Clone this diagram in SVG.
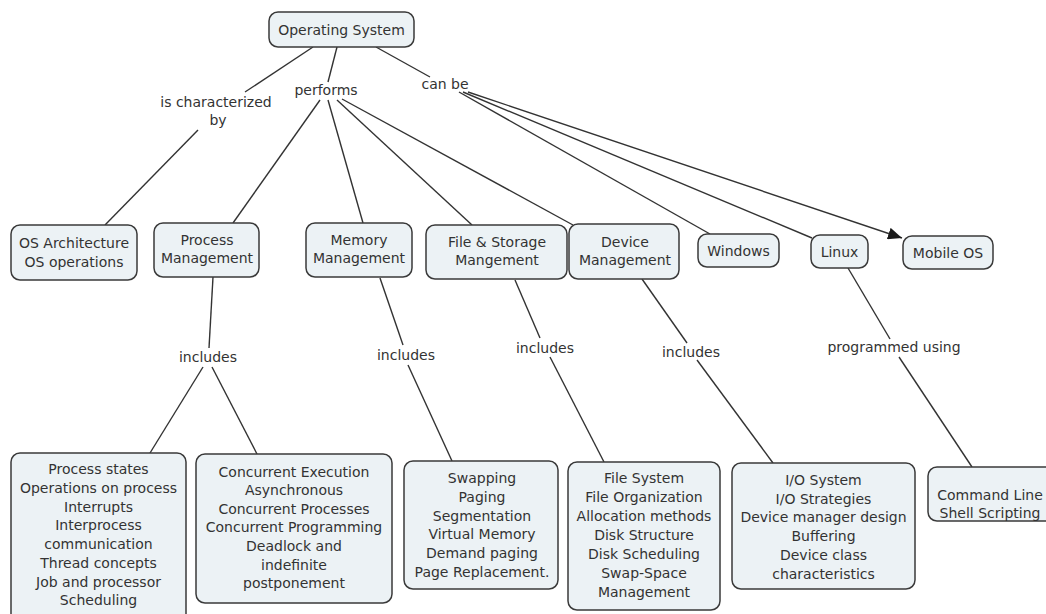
<svg xmlns="http://www.w3.org/2000/svg" width="1046" height="614" viewBox="0 0 1046 614">
  <defs>
    <marker id="arrow" viewBox="0 0 14 12" refX="14" refY="6" markerWidth="14" markerHeight="12" markerUnits="userSpaceOnUse" orient="auto">
      <path d="M0,0 L14,6 L0,12 Z" fill="#1a1a1a"/>
    </marker>
    <style>
      .node rect { fill: #ecf2f5; stroke: #3a3a3a; stroke-width: 1.5; }
      text { font-family: "DejaVu Sans", Verdana, sans-serif; font-size: 14px; fill: #333; text-anchor: middle; }
      .links line { stroke: #333; stroke-width: 1.4; fill: none; }
    </style>
  </defs>
  <rect width="1046" height="614" fill="#ffffff"/>

  <!-- connectors and linking phrases -->
  <g id="connectors" class="links">
    <line x1="313" y1="47" x2="245" y2="92"/>
    <line x1="198" y1="130" x2="105" y2="225"/>
    <line x1="337" y1="47" x2="328" y2="82"/>
    <line x1="320" y1="100" x2="233" y2="223"/>
    <line x1="328" y1="100" x2="363" y2="223"/>
    <line x1="337" y1="100" x2="472" y2="225"/>
    <line x1="342" y1="99" x2="573" y2="225"/>
    <line x1="376" y1="47" x2="430" y2="77"/>
    <line x1="459" y1="92" x2="710" y2="234"/>
    <line x1="463" y1="92" x2="812" y2="238"/>
    <line x1="468" y1="92" x2="902" y2="238" marker-end="url(#arrow)"/>
    <line x1="213" y1="277" x2="209" y2="348"/>
    <line x1="203" y1="367" x2="150" y2="453"/>
    <line x1="212" y1="367" x2="257" y2="454"/>
    <line x1="380" y1="278" x2="403" y2="345"/>
    <line x1="408" y1="365" x2="452" y2="461"/>
    <line x1="515" y1="280" x2="540" y2="338"/>
    <line x1="550" y1="357" x2="604" y2="462"/>
    <line x1="642" y1="279" x2="687" y2="343"/>
    <line x1="697" y1="360" x2="773" y2="463"/>
    <line x1="848" y1="268" x2="890" y2="339"/>
    <line x1="899" y1="357" x2="972" y2="467"/>
    <text x="216" y="107">is characterized</text>
    <text x="218" y="125">by</text>
    <text x="326" y="95">performs</text>
    <text x="445" y="89">can be</text>
    <text x="208" y="362">includes</text>
    <text x="406" y="360">includes</text>
    <text x="545" y="353">includes</text>
    <text x="691" y="357">includes</text>
    <text x="894" y="352">programmed using</text>
  </g>

  <!-- root -->
  <g id="operating-system" class="node">
    <rect x="269" y="12" width="145" height="35" rx="9"/>
    <text x="341.5" y="34.5">Operating System</text>
  </g>

  <!-- second level -->
  <g id="os-architecture" class="node">
    <rect x="11" y="225" width="126" height="55" rx="9"/>
    <text x="74" y="248">OS Architecture</text>
    <text x="74" y="267">OS operations</text>
  </g>
  <g id="process-management" class="node">
    <rect x="154" y="223" width="105" height="54" rx="9"/>
    <text x="207" y="245">Process</text>
    <text x="207" y="263">Management</text>
  </g>
  <g id="memory-management" class="node">
    <rect x="306" y="223" width="106" height="54" rx="9"/>
    <text x="359" y="245">Memory</text>
    <text x="359" y="263">Management</text>
  </g>
  <g id="file-storage-management" class="node">
    <rect x="426" y="225" width="141" height="54" rx="9"/>
    <text x="497" y="247">File &amp; Storage</text>
    <text x="497" y="265">Mangement</text>
  </g>
  <g id="device-management" class="node">
    <rect x="569" y="224" width="110" height="55" rx="9"/>
    <text x="625" y="247">Device</text>
    <text x="625" y="265">Management</text>
  </g>
  <g id="windows" class="node">
    <rect x="698" y="234" width="81" height="33" rx="9"/>
    <text x="738.5" y="255.5">Windows</text>
  </g>
  <g id="linux" class="node">
    <rect x="811" y="235" width="57" height="33" rx="9"/>
    <text x="839.5" y="256.5">Linux</text>
  </g>
  <g id="mobile-os" class="node">
    <rect x="903" y="236" width="90" height="33" rx="9"/>
    <text x="948" y="257.5">Mobile OS</text>
  </g>

  <!-- detail boxes -->
  <g id="process-topics" class="node">
    <rect x="11" y="453" width="175" height="170" rx="9"/>
    <text x="98.5" y="474">Process states<tspan x="98.5" dy="18.75">Operations on process</tspan><tspan x="98.5" dy="18.75">Interrupts</tspan><tspan x="98.5" dy="18.75">Interprocess</tspan><tspan x="98.5" dy="18.75">communication</tspan><tspan x="98.5" dy="18.75">Thread concepts</tspan><tspan x="98.5" dy="18.75">Job and processor</tspan><tspan x="98.5" dy="18.75">Scheduling</tspan></text>
  </g>
  <g id="concurrency-topics" class="node">
    <rect x="196" y="454" width="196" height="149" rx="9"/>
    <text x="294" y="476.5">Concurrent Execution<tspan x="294" dy="18.6">Asynchronous</tspan><tspan x="294" dy="18.6">Concurrent Processes</tspan><tspan x="294" dy="18.6">Concurrent Programming</tspan><tspan x="294" dy="18.6">Deadlock and</tspan><tspan x="294" dy="18.6">indefinite</tspan><tspan x="294" dy="18.6">postponement</tspan></text>
  </g>
  <g id="memory-topics" class="node">
    <rect x="404" y="461" width="154" height="128" rx="9"/>
    <text x="482" y="483.3">Swapping<tspan x="482" dy="18.7">Paging</tspan><tspan x="482" dy="18.7">Segmentation</tspan><tspan x="482" dy="18.7">Virtual Memory</tspan><tspan x="482" dy="18.7">Demand paging</tspan><tspan x="482" dy="18.7">Page Replacement.</tspan></text>
  </g>
  <g id="file-topics" class="node">
    <rect x="568" y="462" width="152" height="148" rx="9"/>
    <text x="644" y="483.3">File System<tspan x="644" dy="18.9">File Organization</tspan><tspan x="644" dy="18.9">Allocation methods</tspan><tspan x="644" dy="18.9">Disk Structure</tspan><tspan x="644" dy="18.9">Disk Scheduling</tspan><tspan x="644" dy="18.9">Swap-Space</tspan><tspan x="644" dy="18.9">Management</tspan></text>
  </g>
  <g id="device-topics" class="node">
    <rect x="732" y="463" width="183" height="126" rx="9"/>
    <text x="823.5" y="485">I/O System<tspan x="823.5" dy="18.7">I/O Strategies</tspan><tspan x="823.5" dy="18.7">Device manager design</tspan><tspan x="823.5" dy="18.7">Buffering</tspan><tspan x="823.5" dy="18.7">Device class</tspan><tspan x="823.5" dy="18.7">characteristics</tspan></text>
  </g>
  <g id="linux-tools" class="node">
    <rect x="928" y="467" width="126" height="54" rx="9"/>
    <text x="990" y="500">Command Line<tspan x="990" dy="17.5">Shell Scripting</tspan></text>
  </g>
</svg>
